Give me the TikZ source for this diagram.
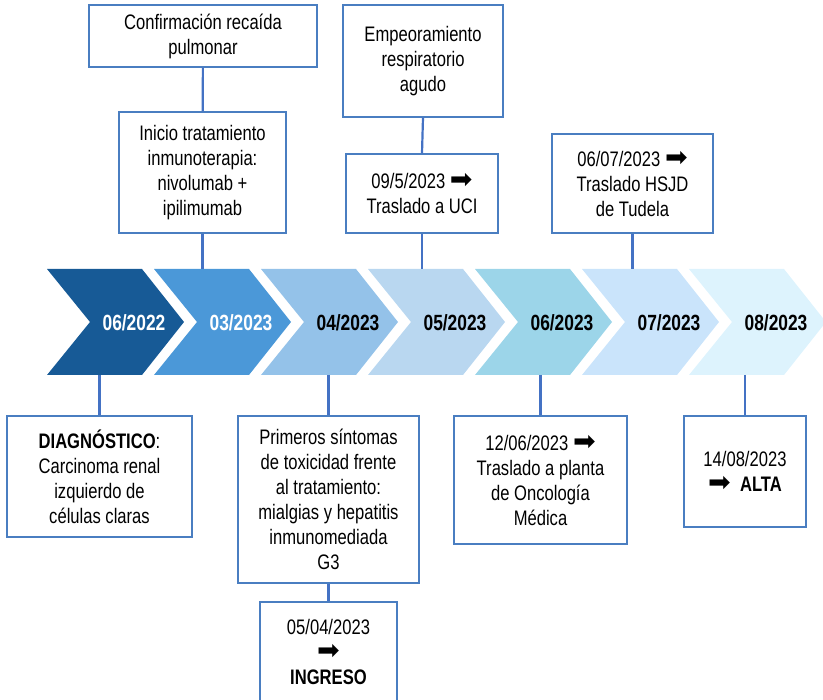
\documentclass[tikz,border=0pt]{standalone}
\usepackage{fontspec}
\setmainfont{Liberation Sans}[FakeStretch=0.79]
\newfontfamily\arrowfont{DejaVu Sans}
\definecolor{mes1}{HTML}{175A96}
\definecolor{mes2}{HTML}{4B98D8}
\definecolor{mes3}{HTML}{94C2E9}
\definecolor{mes4}{HTML}{B9D7F0}
\definecolor{mes5}{HTML}{9CD5E9}
\definecolor{mes6}{HTML}{CAE4FB}
\definecolor{mes7}{HTML}{DDF3FD}
\definecolor{borde}{HTML}{4A7EC1}
\definecolor{enlace}{HTML}{4472C4}
\newcommand{\flecha}{{\arrowfont\fontsize{27}{25}\selectfont\char"27A1}}
\begin{document}
\begin{tikzpicture}[x=1pt, y=-1pt,
  evento/.style={draw=borde, line width=1.1pt, fill=white, align=center, inner sep=0pt,
    font=\fontsize{21}{25}\selectfont},
  mes/.style={font=\fontsize{22}{25}\selectfont\bfseries},
  enlace/.style={draw=enlace, line width=2.2pt}]
\useasboundingbox (0,0) rectangle (823,700);
% flechas de los meses
\fill[mes1] (47,269) -- ++(95,0) -- ++(42,53) -- ++(-42,53) -- ++(-95,0) -- ++(43,-53) -- cycle;
\fill[mes2] (154,269) -- ++(95,0) -- ++(42,53) -- ++(-42,53) -- ++(-95,0) -- ++(43,-53) -- cycle;
\fill[mes3] (261,269) -- ++(95,0) -- ++(42,53) -- ++(-42,53) -- ++(-95,0) -- ++(43,-53) -- cycle;
\fill[mes4] (368,269) -- ++(95,0) -- ++(42,53) -- ++(-42,53) -- ++(-95,0) -- ++(43,-53) -- cycle;
\fill[mes5] (475,269) -- ++(95,0) -- ++(42,53) -- ++(-42,53) -- ++(-95,0) -- ++(43,-53) -- cycle;
\fill[mes6] (582,269) -- ++(95,0) -- ++(42,53) -- ++(-42,53) -- ++(-95,0) -- ++(43,-53) -- cycle;
\fill[mes7] (689,269) -- ++(95,0) -- ++(42,53) -- ++(-42,53) -- ++(-95,0) -- ++(43,-53) -- cycle;
\node[mes, white] (m0622) at (134,323) {06/2022};
\node[mes, white] (m0323) at (241,323) {03/2023};
\node[mes] (m0423) at (348,323) {04/2023};
\node[mes] (m0523) at (455,323) {05/2023};
\node[mes] (m0623) at (562,323) {06/2023};
\node[mes] (m0723) at (669,323) {07/2023};
\node[mes] (m0823) at (776,323) {08/2023};
\coordinate (ctop) at (0,269);
\coordinate (cbot) at (0,375);
% eventos de arriba
\node[evento, minimum width=228pt, minimum height=62pt] (recaida) at (203,36) {Confirmación recaída\\pulmonar};
\node[evento, minimum width=167pt, minimum height=121pt] (inicio) at (202.5,172.5) {Inicio tratamiento\\inmunoterapia:\\nivolumab +\\ipilimumab};
\node[evento, minimum width=160pt, minimum height=112pt] (empeora) at (423,61) {Empeoramiento\\respiratorio\\agudo};
\node[evento, minimum width=152pt, minimum height=79pt] (uci) at (422,193.5) {09/5/2023 \flecha\\Traslado a UCI};
\node[evento, minimum width=161pt, minimum height=99pt] (hsjd) at (632.5,183.5) {06/07/2023 \flecha\\Traslado HSJD\\de Tudela};
% eventos de abajo
\node[evento, minimum width=185pt, minimum height=121pt] (diag) at (99.5,476.5) {\textbf{DIAGNÓSTICO}:\\Carcinoma renal\\izquierdo de\\células claras};
\node[evento, minimum width=181pt, minimum height=167pt] (toxic) at (328.5,499.5) {Primeros síntomas\\de toxicidad frente\\al tratamiento:\\mialgias y hepatitis\\inmunomediada\\G3};
\node[evento, minimum width=137pt, minimum height=100pt] (ingreso) at (328.5,652) {05/04/2023\\\flecha\\\textbf{INGRESO}};
\node[evento, minimum width=173pt, minimum height=128pt] (planta) at (540.5,480) {12/06/2023 \flecha\\Traslado a planta\\de Oncología\\Médica};
\node[evento, minimum width=122pt, minimum height=111pt] (alta) at (745,471.5) {14/08/2023\\\flecha\ \ \textbf{ALTA}};
\draw[enlace] (recaida) -- (inicio);
\draw[enlace] (inicio.south) -- (inicio.south |- ctop);
\draw[enlace] (empeora.south) -- (uci.north);
\draw[enlace] (uci.south) -- (uci.south |- ctop);
\draw[enlace] (hsjd.south) -- (hsjd.south |- ctop);
\draw[enlace] (diag.north |- cbot) -- (diag.north);
\draw[enlace] (toxic.north |- cbot) -- (toxic.north);
\draw[enlace] (toxic.south) -- (ingreso.north);
\draw[enlace] (planta.north |- cbot) -- (planta.north);
\draw[enlace] (alta.north |- cbot) -- (alta.north);
\end{tikzpicture}
\end{document}
